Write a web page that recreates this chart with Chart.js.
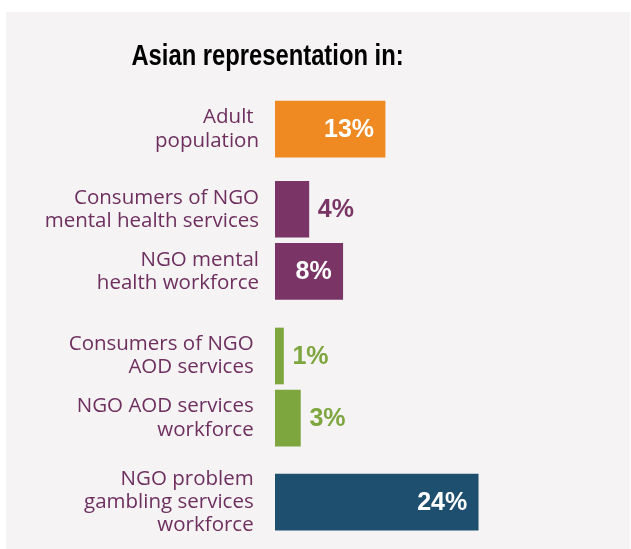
<!DOCTYPE html>
<html>
<head>
<meta charset="utf-8">
<title>Asian representation</title>
<script src="https://cdn.jsdelivr.net/npm/chart.js"></script>
<style>
  html, body { margin: 0; padding: 0; background: #ffffff; }
  #panel {
    position: absolute;
    left: 6px;
    top: 12px;
    width: 624px;
    height: 537px;
    background: #f5f3f4;
  }
  #repChart { display: block; }
</style>
</head>
<body>
<div id="panel">
  <canvas id="repChart" width="624" height="537"></canvas>
</div>

<script>
// -------------------------------
// DATA
// -------------------------------

const chartTitle = "Asian representation in:";

const categories = [
  ["Adult ", "population"],
  ["Consumers of NGO", "mental health services"],
  ["NGO mental", "health workforce"],
  ["Consumers of NGO ", "AOD services "],
  ["NGO AOD services ", "workforce "],
  ["NGO problem ", "gambling services ", "workforce "]
];

// Asian share (%)
const values = [13, 4, 8, 1, 3, 24];

// which block each row belongs to (population / mental health / AOD / gambling)
const groups = [0, 1, 1, 2, 2, 3];

const xTicks = [0, 30];


// -------------------------------
// STYLE
// -------------------------------

const groupColors = ["#ef8a22", "#7a3466", "#7da63f", "#1f4f6e"];
const labelColor = "#6e2f5f";
const blockGaps = [0.29, 0.36, 0.35]; // extra space before blocks 1..3, in row units

// row positions on the (linear) y axis
const rowPos = values.map((v, i) => {
  let p = i;
  for (let g = 0; g < groups[i]; g++) p += blockGaps[g];
  return p;
});


// -------------------------------
// title: bold, squeezed to a narrow face
// -------------------------------

const narrowTitle = {
  id: "narrowTitle",
  afterDraw(chart) {
    const ctx = chart.ctx;
    const cx = (chart.width - 101) / 2;
    ctx.save();
    ctx.font = "bold 29px 'Liberation Sans', Arial, sans-serif";
    ctx.fillStyle = "#000000";
    ctx.textAlign = "center";
    ctx.textBaseline = "alphabetic";
    ctx.translate(cx, 53);
    ctx.scale(0.82, 1);
    ctx.fillText(chartTitle, 0, 0);
    ctx.restore();
  }
};


// -------------------------------
// value labels: white inside long bars, coloured outside short ones
// -------------------------------

const valueLabels = {
  id: "valueLabels",
  afterDatasetsDraw(chart) {
    const ctx = chart.ctx;
    const meta = chart.getDatasetMeta(0);
    ctx.save();
    ctx.font = "bold 25px 'Liberation Sans', Arial, sans-serif";
    ctx.textBaseline = "middle";
    meta.data.forEach((bar, i) => {
      const text = values[i] + "%";
      const w = ctx.measureText(text).width;
      const barLen = bar.x - bar.base;
      if (barLen > w + 20) {
        ctx.fillStyle = "#ffffff";
        ctx.textAlign = "right";
        ctx.fillText(text, bar.x - 11, bar.y + 1);
      } else {
        ctx.fillStyle = groupColors[groups[i]];
        ctx.textAlign = "left";
        ctx.fillText(text, bar.x + 9, bar.y + 1);
      }
    });
    ctx.restore();
  }
};


// -------------------------------
// CHART
// -------------------------------

function renderChart() {
  const canvas = document.getElementById("repChart");
  if (!canvas || typeof Chart === "undefined") return;

  new Chart(canvas.getContext("2d"), {
    type: "bar",
    data: {
      datasets: [{
        data: values.map((v, i) => ({ x: v, y: rowPos[i] })),
        backgroundColor: groups.map(g => groupColors[g]),
        borderWidth: 0,
        barThickness: 56
      }]
    },
    options: {
      indexAxis: "y",
      responsive: false,
      animation: false,
      devicePixelRatio: 1,
      layout: { padding: { left: 0, right: 101, top: 86, bottom: 0 } },
      plugins: {
        legend: { display: false },
        tooltip: { enabled: false },
        title: { display: false }
      },
      scales: {
        x: {
          type: "linear",
          display: false,
          min: xTicks[0],
          max: xTicks[1]
        },
        y: {
          type: "linear",
          reverse: true,
          offset: false,
          min: -0.5,
          max: 6.755,
          grid: { display: false, drawTicks: false, offset: false },
          border: { display: false },
          afterBuildTicks: (scale) => {
            scale.ticks = rowPos.map(p => ({ value: p }));
          },
          afterFit: (scale) => {
            scale.width = 269;
            scale.paddingTop = 0;
            scale.paddingBottom = 0;
          },
          ticks: {
            padding: 16,
            color: labelColor,
            font: { family: "'Open Sans', sans-serif", size: 20.5, lineHeight: 1.13 },
            callback: (value, index) => categories[index]
          }
        }
      }
    },
    plugins: [valueLabels, narrowTitle]
  });
}

document.addEventListener("DOMContentLoaded", renderChart);
</script>
</body>
</html>
